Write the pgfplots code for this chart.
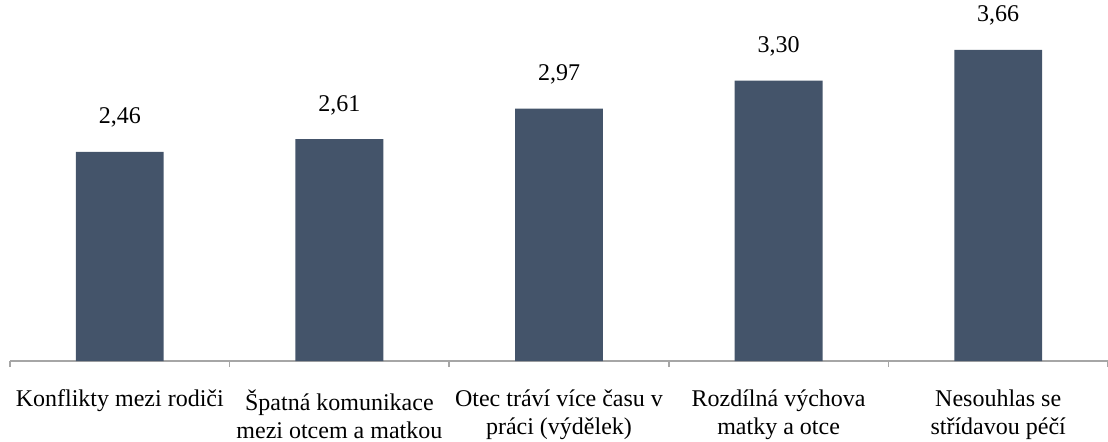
\documentclass[border=0pt]{standalone}
\usepackage{fontspec}
\setmainfont{LiberationSerif}[Extension=.ttf, UprightFont=*-Regular]
\usepackage{pgfplots}
\pgfplotsset{compat=1.18}
\definecolor{barc}{HTML}{44546A}
\definecolor{axc}{HTML}{A6A6A6}
\begin{document}
\fontsize{12pt}{14pt}\selectfont
\begin{tikzpicture}
\useasboundingbox (-5pt,-40pt) rectangle (549pt,180.5pt);
\begin{axis}[
  scale only axis,
  width=549pt, height=178.5pt,
  xmin=-0.5, xmax=4.5, ymin=0, ymax=4.2,
  axis y line=none,
  axis x line*=bottom,
  x axis line style={draw=axc, line width=0.8pt, -},
  xtick={0,1,2,3,4},
  xticklabels={{Konflikty mezi rodiči},{Špatná komunikace\\mezi otcem a matkou},{Otec tráví více času v\\práci (výdělek)},{Rozdílná výchova\\matky a otce},{Nesouhlas se\\střídavou péčí}},
  major tick length=0pt,
  minor xtick={-0.5,0.5,1.5,2.5,3.5,4.5},
  minor tick length=3pt,
  tick align=outside,
  minor tick style={draw=axc, line width=0.8pt},
  xticklabel style={align=center, font=\fontsize{12pt}{14pt}\selectfont, yshift=-10pt},
  /pgf/number format/assume math mode=true,
  ybar, bar width=0.4,
  nodes near coords,
  nodes near coords style={font=\fontsize{12pt}{14pt}\selectfont, yshift=8pt, /pgf/number format/.cd, use comma, fixed, fixed zerofill, precision=2, assume math mode=true},
  clip=false,
]
\addplot[fill=barc, draw=none] coordinates {(0,2.46) (1,2.61) (2,2.97) (3,3.30) (4,3.66)};
\end{axis}
\end{tikzpicture}
\end{document}
